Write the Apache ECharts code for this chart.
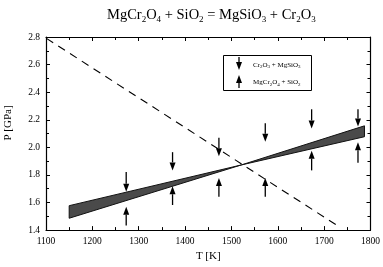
<!DOCTYPE html>
<html>
<head>
<meta charset="utf-8">
<script src="https://cdn.jsdelivr.net/npm/echarts@6/dist/echarts.min.js"></script>
<style>
    html, body { margin: 0; padding: 0; background: #fff; }
    #chart { width: 383px; height: 267px; }
</style>
</head>
<body>
<div id="chart"></div>
<script>
// shaded band: two straight lines that cross near 1520 K
const bandT = [1150, 1521, 1787];
const bandA = [1.577, 1.872, 2.077];
const bandB = [1.486, 1.872, 2.156];

// dashed line
const dashT = [1101, 1726];
const dashP = [2.79, 1.438];

// experiments: down arrows (Cr2O3 + MgSiO3) and up arrows (MgCr2O4 + SiO2)
const arrowT = [1273, 1373, 1473, 1573, 1673, 1773];
const downFrom = [1.821, 1.965, 2.070, 2.175, 2.276, 2.276];
const downTo = [1.678, 1.833, 1.936, 2.041, 2.137, 2.152];
const upFrom = [1.434, 1.582, 1.642, 1.642, 1.833, 1.888];
const upTo = [1.570, 1.718, 1.778, 1.778, 1.976, 2.037];

const xTicks = [1100, 1200, 1300, 1400, 1500, 1600, 1700, 1800];
const yTicks = [1.4, 1.6, 1.8, 2.0, 2.2, 2.4, 2.6, 2.8];

const serif = '"Liberation Serif", "DejaVu Serif", serif';

const chart = echarts.init(document.getElementById('chart'));

function arrowShape(p1, p2, z) {
    // p1 = tail, p2 = tip (pixel coords)
    const dir = p2[1] > p1[1] ? 1 : -1;
    const headLen = 8, headW = 3;
    const baseY = p2[1] - dir * headLen;
    const line = { type: 'line', shape: { x1: p1[0], y1: p1[1], x2: p2[0], y2: baseY }, style: { stroke: '#000', lineWidth: 1.3 } };
    const head = { type: 'polygon', shape: { points: [[p2[0], p2[1]], [p2[0] - headW, baseY], [p2[0] + headW, baseY]] }, style: { fill: '#000' } };
    if (z !== undefined) { line.z = z; head.z = z; }
    return [line, head];
}

const bandData = bandT.map((t, i) => [t, bandA[i], bandB[i]]);
const arrowData = [];
arrowT.forEach((t, i) => {
    arrowData.push([t, downFrom[i], downTo[i]]);
    arrowData.push([t, upFrom[i], upTo[i]]);
});

const axisLineStyle = { color: '#000', width: 1.2 };
const subStyle = { fontFamily: serif, fontSize: 5, fill: '#000', color: '#000', verticalAlign: 'bottom', lineHeight: 6 };

const option = {
    animation: false,
    title: {
        text: 'MgCr{s|2}O{s|4} + SiO{s|2} = MgSiO{s|3} + Cr{s|2}O{s|3}',
        left: 102,
        top: 1,
        textStyle: {
            fontFamily: serif,
            fontWeight: 'normal',
            fontSize: 14.5,
            color: '#000',
            lineHeight: 18,
            rich: {
                s: { fontFamily: serif, fontSize: 9, color: '#000', verticalAlign: 'bottom', lineHeight: 12 }
            }
        }
    },
    grid: { left: 46, right: 8, top: 37, bottom: 35 },
    xAxis: [{
        type: 'value',
        min: 1100,
        max: 1800,
        interval: 100,
        name: 'T [K]',
        nameLocation: 'middle',
        nameGap: 19,
        nameTextStyle: { fontFamily: serif, fontSize: 11, color: '#000' },
        axisLine: { lineStyle: axisLineStyle },
        axisTick: { inside: true, length: 4, lineStyle: { color: '#000' } },
        minorTick: { show: true, splitNumber: 2, length: 3, lineStyle: { color: '#000' } },
        axisLabel: {
            margin: 6, fontFamily: serif, fontSize: 9.5, color: '#000',
            formatter: v => xTicks.includes(v) ? String(v) : ''
        },
        splitLine: { show: false }
    }, {
        type: 'value', position: 'top', min: 1100, max: 1800, interval: 100,
        axisLine: { onZero: false, lineStyle: axisLineStyle },
        axisTick: { inside: true, length: 4, lineStyle: { color: '#000' } },
        minorTick: { show: true, splitNumber: 2, length: 3, lineStyle: { color: '#000' } },
        axisLabel: { show: false },
        splitLine: { show: false }
    }],
    yAxis: [{
        type: 'value',
        min: 1.4,
        max: 2.8,
        interval: 0.2,
        axisLine: { show: true, lineStyle: axisLineStyle },
        axisTick: { show: true, inside: true, length: 4, lineStyle: { color: '#000' } },
        minorTick: { show: true, splitNumber: 2, length: 3, lineStyle: { color: '#000' } },
        axisLabel: {
            margin: 6, fontFamily: serif, fontSize: 9.5, color: '#000',
            formatter: v => {
                const t = yTicks.find(y => Math.abs(y - v) < 1e-6);
                return t !== undefined ? t.toFixed(1) : '';
            }
        },
        splitLine: { show: false }
    }, {
        type: 'value', position: 'right', min: 1.4, max: 2.8, interval: 0.2,
        axisLine: { show: true, onZero: false, lineStyle: axisLineStyle },
        axisTick: { show: true, inside: true, length: 4, lineStyle: { color: '#000' } },
        minorTick: { show: true, splitNumber: 2, length: 3, lineStyle: { color: '#000' } },
        axisLabel: { show: false },
        splitLine: { show: false }
    }],
    graphic: [
        {
            type: 'text', x: 8, y: 123, rotation: Math.PI / 2,
            style: { text: 'P [GPa]', fontFamily: serif, fontSize: 11, fill: '#000', align: 'center', verticalAlign: 'middle' }
        },
        {
            type: 'rect', shape: { x: 223.5, y: 55.5, width: 88, height: 35 },
            style: { fill: '#fff', stroke: '#000', lineWidth: 1 }, z: 10
        },
        ...arrowShape([239, 57], [239, 70], 11),
        ...arrowShape([239, 88], [239, 75], 11),
        {
            type: 'text', x: 253, y: 65, z: 11,
            style: {
                text: 'Cr{s|2}O{s|3} + MgSiO{s|3}', fontFamily: serif, fontSize: 7, fill: '#000',
                verticalAlign: 'middle', lineHeight: 9,
                rich: { s: subStyle }
            }
        },
        {
            type: 'text', x: 253, y: 82.5, z: 11,
            style: {
                text: 'MgCr{s|2}O{s|4} + SiO{s|2}', fontFamily: serif, fontSize: 7, fill: '#000',
                verticalAlign: 'middle', lineHeight: 9,
                rich: { s: subStyle }
            }
        }
    ],
    series: [
        {
            type: 'custom',
            name: 'band',
            data: bandData,
            renderItem: (params, api) => {
                const i = params.dataIndex;
                if (i >= bandData.length - 1) return null;
                const a0 = api.coord([bandData[i][0], bandData[i][1]]);
                const a1 = api.coord([bandData[i + 1][0], bandData[i + 1][1]]);
                const b1 = api.coord([bandData[i + 1][0], bandData[i + 1][2]]);
                const b0 = api.coord([bandData[i][0], bandData[i][2]]);
                return {
                    type: 'polygon',
                    shape: { points: [a0, a1, b1, b0] },
                    style: { fill: '#4a4a4a', stroke: '#111', lineWidth: 1 }
                };
            },
            z: 3
        },
        {
            type: 'line',
            name: 'dashed',
            data: dashT.map((t, i) => [t, dashP[i]]),
            symbol: 'none',
            lineStyle: { color: '#000', width: 1.1, type: [8, 6] },
            z: 2
        },
        {
            type: 'custom',
            name: 'arrows',
            data: arrowData,
            renderItem: (params, api) => {
                const p1 = api.coord([api.value(0), api.value(1)]);
                const p2 = api.coord([api.value(0), api.value(2)]);
                return { type: 'group', children: arrowShape(p1, p2) };
            },
            z: 4
        }
    ]
};

chart.setOption(option);
</script>
</body>
</html>
